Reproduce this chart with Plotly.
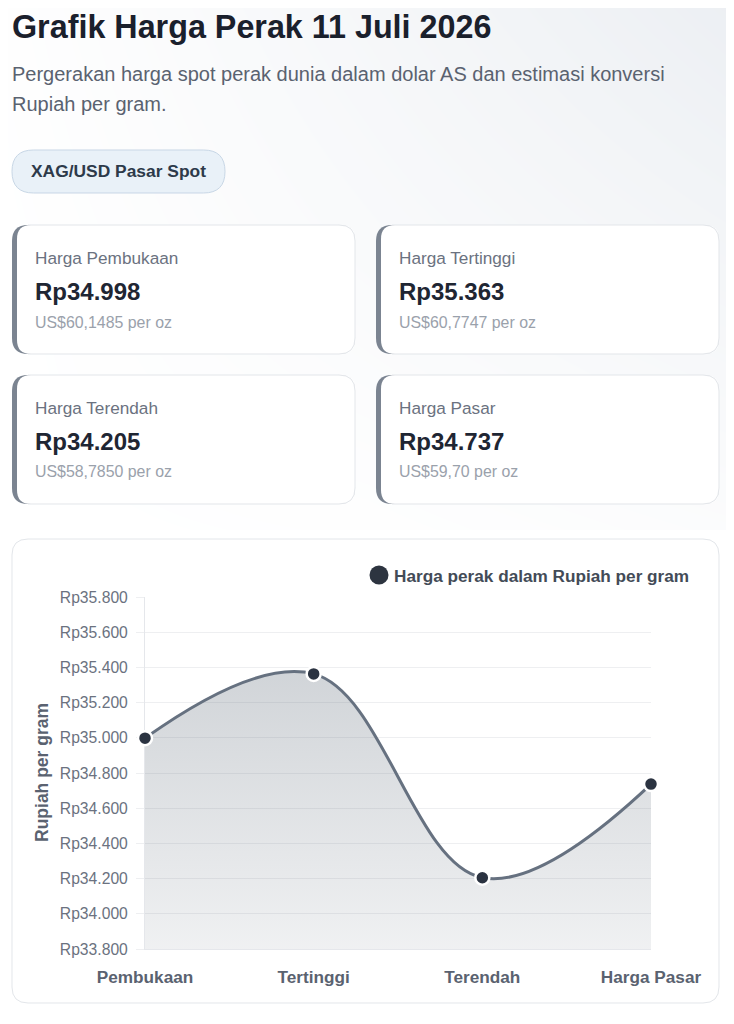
import plotly.graph_objects as go

# the page body adds an 8px margin, so the figure is a bit smaller and shifted
W, H, OFF = 718, 1008, 8

# chart data
categories = ["Pembukaan", "Tertinggi", "Terendah", "Harga Pasar"]
rupiah_per_gram = [34998, 35363, 34205, 34737]

# summary cards
card_titles = ["Harga Pembukaan", "Harga Tertinggi", "Harga Terendah", "Harga Pasar"]
card_values = ["Rp34.998", "Rp35.363", "Rp34.205", "Rp34.737"]
card_usd = ["US$60,1485 per oz", "US$60,7747 per oz", "US$58,7850 per oz", "US$59,70 per oz"]

# soft page background shade (top right corner)
bg_x = [0, 367, 734]
bg_y = [0, 265, 530]
bg_shade = [[0.05, 0.5, 1.0],
            [0.0, 0.3, 0.6],
            [0.0, 0.05, 0.2]]

FONT = "Liberation Sans, Arial, Helvetica, sans-serif"


def px(x):
    return (x - OFF) / W


def py(y):
    return 1 - (y - OFF) / H


def pt(x, y):
    return "%.5f,%.5f" % (px(x), py(y))


def rrect(x0, y0, x1, y1, r):
    return ("M" + pt(x0 + r, y0) + " L" + pt(x1 - r, y0) +
            " Q" + pt(x1, y0) + " " + pt(x1, y0 + r) +
            " L" + pt(x1, y1 - r) +
            " Q" + pt(x1, y1) + " " + pt(x1 - r, y1) +
            " L" + pt(x0 + r, y1) +
            " Q" + pt(x0, y1) + " " + pt(x0, y1 - r) +
            " L" + pt(x0, y0 + r) +
            " Q" + pt(x0, y0) + " " + pt(x0 + r, y0) + " Z")


def open_outline(x0, y0, x1, y1, r):
    return ("M" + pt(x0 + r, y0) + " L" + pt(x1 - r, y0) +
            " Q" + pt(x1, y0) + " " + pt(x1, y0 + r) +
            " L" + pt(x1, y1 - r) +
            " Q" + pt(x1, y1) + " " + pt(x1 - r, y1) +
            " L" + pt(x0 + r, y1))


def label(text, x, y, size, color, anchor="left", angle=0):
    return dict(text=text, x=px(x), y=py(y), xref="paper", yref="paper", showarrow=False,
                xanchor=anchor, yanchor="middle", textangle=angle,
                font=dict(family=FONT, size=size, color=color))


fig = go.Figure()

fig.add_trace(go.Heatmap(
    x=bg_x, y=bg_y, z=bg_shade, xaxis="x3", yaxis="y3",
    zsmooth="best", showscale=False, hoverinfo="skip",
    colorscale=[[0, "#ffffff"], [1, "#eceff3"]], zmin=0, zmax=1,
))

fig.add_trace(go.Scatter(
    x=categories, y=rupiah_per_gram,
    mode="lines+markers",
    line=dict(color="#667180", width=3, shape="spline", smoothing=1.1),
    marker=dict(size=14, color="#2b3341", line=dict(color="#ffffff", width=2.5)),
    fill="tozeroy",
    fillgradient=dict(type="vertical", start=33800, stop=35400,
                      colorscale=[[0, "rgba(100,112,125,0.10)"], [1, "rgba(100,112,125,0.30)"]]),
    cliponaxis=False,
    showlegend=False,
    hoverinfo="skip",
))

shapes = []
annotations = []

# pill
shapes.append(dict(type="path", path=rrect(12, 150, 225, 193, 21.5), xref="paper", yref="paper",
                   fillcolor="#e9f1f8", line=dict(color="#c8d7e6", width=1), layer="above"))
annotations.append(label("<b>XAG/USD Pasar Spot</b>", 118.5, 171.5, 17.4, "#2d3a4a", anchor="center"))

# cards
card_boxes = [(12, 225, 355, 354), (376, 225, 719, 354), (12, 375, 355, 504), (376, 375, 719, 504)]
for i, (x0, y0, x1, y1) in enumerate(card_boxes):
    shapes.append(dict(type="path", path=rrect(x0, y0, x1, y1, 16), xref="paper", yref="paper",
                       fillcolor="#7b8491", line=dict(width=0), layer="above"))
    shapes.append(dict(type="path", path=rrect(x0 + 5, y0, x1, y1, 14), xref="paper", yref="paper",
                       fillcolor="#ffffff", line=dict(width=0), layer="above"))
    shapes.append(dict(type="path", path=open_outline(x0, y0, x1, y1, 16), xref="paper", yref="paper",
                       line=dict(color="#e3e6ea", width=1), layer="above"))
    annotations.append(label(card_titles[i], x0 + 21, y0 + 33, 17.2, "#6b7280"))
    annotations.append(label("<b>" + card_values[i] + "</b>", x0 + 20.5, y0 + 66, 24, "#1f2633"))
    annotations.append(label(card_usd[i], x0 + 21, y0 + 97, 15.9, "#9aa1ab"))

# chart card
shapes.append(dict(type="path", path=rrect(12, 539, 719, 1003, 16), xref="paper", yref="paper",
                   fillcolor="#ffffff", line=dict(color="#e3e6ea", width=1), layer="below"))

# legend
shapes.append(dict(type="circle", xref="paper", yref="paper",
                   x0=px(369.5), x1=px(388.5), y0=py(584.5), y1=py(565.5),
                   fillcolor="#2d3440", line=dict(width=0), layer="above"))
annotations.append(label("<b>Harga perak dalam Rupiah per gram</b>", 392, 575.5, 17.2, "#434b57"))

# y axis title
annotations.append(label("<b>Rupiah per gram</b>", 42, 773, 17.5, "#5a6270", anchor="center", angle=-90))

# title and subtitle
annotations.append(label("<b>Grafik Harga Perak 11 Juli 2026</b>", 10, 27, 32.3, "#1a202c"))
annotations.append(label("Pergerakan harga spot perak dunia dalam dolar AS dan estimasi konversi",
                         10, 74, 20, "#5a6270"))
annotations.append(label("Rupiah per gram.", 10, 104, 20, "#5a6270"))

fig.update_layout(
    width=W, height=H,
    margin=dict(l=0, r=0, t=0, b=0, autoexpand=False),
    paper_bgcolor="#ffffff",
    plot_bgcolor="rgba(0,0,0,0)",
    separators=",.",
    shapes=shapes,
    annotations=annotations,
    xaxis=dict(
        type="category", categoryorder="array", categoryarray=categories,
        range=[0, 3], domain=[px(145), px(651)], automargin=False,
        showgrid=False, zeroline=False, layer="below traces",
        showline=True, linecolor="#e5e7eb", linewidth=1,
        ticks="", ticklabelstandoff=12,
        tickfont=dict(family=FONT, size=17.2, color="#5a6270", weight="bold"),
        fixedrange=True,
    ),
    yaxis=dict(
        range=[33800, 35800], domain=[py(949), py(597)], automargin=False,
        dtick=200, tick0=33800,
        tickprefix="Rp", tickformat=",d",
        gridcolor="#eeeff1", gridwidth=1, zeroline=False, layer="below traces",
        showline=True, linecolor="#e5e7eb", linewidth=1,
        ticks="outside", ticklen=8, tickcolor="#eeeff1", ticklabelstandoff=5,
        tickfont=dict(family=FONT, size=15.7, color="#6b7280"),
        fixedrange=True,
    ),
    xaxis3=dict(domain=[0, 1], range=[OFF, OFF + W], visible=False, anchor="y3", fixedrange=True,
                automargin=False),
    yaxis3=dict(domain=[py(530), 1], range=[530, OFF], visible=False, anchor="x3", fixedrange=True,
                automargin=False),
)

fig.write_html("out.html")
